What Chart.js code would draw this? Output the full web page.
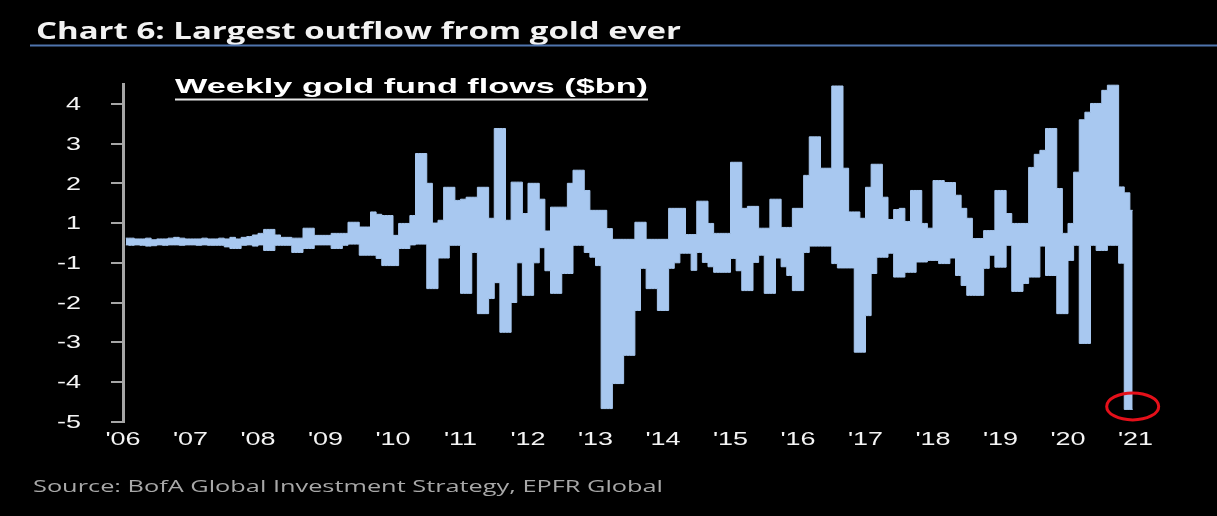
<!DOCTYPE html>
<html>
<head>
<meta charset="utf-8">
<title>Weekly gold fund flows</title>
<script src="https://cdn.jsdelivr.net/npm/chart.js@4/dist/chart.umd.min.js"></script>
<style>
  html, body { margin: 0; padding: 0; background: #000; }
  canvas { display: block; }
</style>
</head>
<body>
<canvas id="grafico" width="1217" height="516"></canvas>
<script>
const titulo = 'Chart 6: Largest outflow from gold ever';
const subtitulo = 'Weekly gold fund flows ($bn)';
const fonte = 'Source: BofA Global Investment Strategy, EPFR Global';

const firstYear = 2006;
const yearLabels = ["'06", "'07", "'08", "'09", "'10", "'11", "'12", "'13", "'14", "'15", "'16", "'17", "'18", "'19", "'20", "'21"];

// axis ticks sit on half units, printed rounded away from zero ("0" number format)
const yTicks = [3.5, 2.5, 1.5, 0.5, -0.5, -1.5, -2.5, -3.5, -4.5];

// largest weekly inflow in each month, $bn (one row per year, Jan..Dec)
const inflows = [
  0.12, 0.12, 0.10, 0.10, 0.12, 0.08, 0.10, 0.10, 0.12, 0.14, 0.12, 0.10,
  0.10, 0.10, 0.12, 0.10, 0.10, 0.12, 0.10, 0.14, 0.10, 0.14, 0.16, 0.20,
  0.24, 0.34, 0.34, 0.20, 0.14, 0.14, 0.12, 0.12, 0.37, 0.37, 0.19, 0.19,
  0.19, 0.24, 0.24, 0.24, 0.52, 0.52, 0.40, 0.40, 0.78, 0.72, 0.69, 0.69,
  0.19, 0.49, 0.49, 0.69, 2.25, 2.25, 1.50, 0.50, 0.57, 1.40, 1.40, 1.07,
  1.10, 1.15, 1.15, 1.40, 1.40, 0.62, 2.88, 2.88, 0.57, 1.53, 1.53, 0.74,
  1.50, 1.50, 1.10, 0.30, 0.90, 0.90, 0.90, 1.50, 1.83, 1.83, 1.32, 0.82,
  0.82, 0.82, 0.36, 0.09, 0.09, 0.09, 0.09, 0.52, 0.52, 0.09, 0.09, 0.09,
  0.09, 0.87, 0.87, 0.87, 0.21, 0.21, 1.05, 1.05, 0.49, 0.24, 0.24, 0.24,
  2.03, 2.03, 0.87, 0.92, 0.92, 0.37, 0.37, 1.10, 1.10, 0.39, 0.39, 0.87,
  0.87, 1.70, 2.67, 2.67, 1.88, 1.88, 3.95, 3.95, 1.88, 0.78, 0.78, 0.62,
  1.40, 1.98, 1.98, 1.15, 0.59, 0.84, 0.87, 0.54, 1.32, 1.32, 0.49, 0.37,
  1.57, 1.57, 1.52, 1.52, 1.20, 0.87, 0.62, 0.11, 0.11, 0.31, 0.31, 1.32,
  1.32, 0.74, 0.49, 0.49, 0.49, 1.90, 2.23, 2.33, 2.88, 2.88, 1.37, 0.24,
  0.49, 1.78, 3.10, 3.29, 3.51, 3.51, 3.84, 3.97, 3.97, 1.41, 1.26, 0.82
];

// largest weekly outflow in each month, $bn
const outflows = [
  -0.05, -0.06, -0.05, -0.06, -0.08, -0.07, -0.05, -0.06, -0.05, -0.05, -0.06, -0.05,
  -0.05, -0.06, -0.05, -0.06, -0.06, -0.06, -0.10, -0.14, -0.14, -0.06, -0.05, -0.08,
  -0.05, -0.19, -0.19, -0.06, -0.06, -0.06, -0.24, -0.24, -0.14, -0.14, -0.05, -0.05,
  -0.05, -0.14, -0.14, -0.06, -0.03, -0.03, -0.31, -0.31, -0.31, -0.39, -0.57, -0.57,
  -0.57, -0.14, -0.14, -0.05, -0.03, -0.03, -1.15, -1.15, -0.38, -0.38, -0.06, -0.06,
  -1.27, -1.27, -0.24, -1.78, -1.78, -1.40, -1.00, -2.25, -2.25, -1.50, -0.50, -1.32,
  -1.32, -0.50, -0.12, -0.70, -1.27, -1.27, -0.77, -0.77, -0.06, -0.06, -0.24, -0.36,
  -0.57, -4.17, -4.17, -3.54, -3.54, -2.83, -2.83, -1.70, -0.64, -1.15, -1.15, -1.70,
  -1.70, -0.64, -0.50, -0.26, -0.26, -0.69, -0.24, -0.49, -0.60, -0.74, -0.74, -0.74,
  -0.39, -0.70, -1.20, -1.20, -0.49, -0.31, -1.27, -1.27, -0.38, -0.60, -0.82, -1.20,
  -1.20, -0.24, -0.08, -0.08, -0.08, -0.08, -0.52, -0.63, -0.63, -0.63, -2.75, -2.75,
  -1.83, -0.77, -0.36, -0.36, -0.26, -0.86, -0.86, -0.74, -0.74, -0.48, -0.48, -0.44,
  -0.44, -0.52, -0.52, -0.38, -0.82, -1.07, -1.32, -1.32, -1.32, -0.64, -0.31, -0.61,
  -0.61, -0.06, -1.22, -1.22, -1.02, -0.86, -0.86, -0.08, -0.82, -0.82, -1.78, -1.78,
  -0.44, -0.06, -2.53, -2.53, -0.06, -0.19, -0.19, -0.06, -0.06, -0.51, -4.19, -4.19
];

const corBarra = '#a8c8f0';

// month index -> position on the year axis (middle of the month)
const mesParaAno = i => firstYear + (i + 0.5) / 12;
const pontos = serie => serie.map((v, i) => ({ x: mesParaAno(i), y: v }));

function rotuloY(v) {
  return String(Math.sign(v) * Math.round(Math.abs(v)));
}

function textoEsticado(ctx, texto, x, y, font, cor, sx, align) {
  ctx.save();
  ctx.font = font;
  ctx.fillStyle = cor;
  ctx.textAlign = align || 'left';
  ctx.textBaseline = 'middle';
  ctx.translate(x, y);
  ctx.scale(sx, 1);
  ctx.fillText(texto, 0, 0);
  ctx.restore();
}

function textoAjustado(ctx, texto, x, y, font, cor, largura) {
  ctx.font = font;
  const sx = largura / ctx.measureText(texto).width;
  textoEsticado(ctx, texto, x, y, font, cor, sx, 'left');
}

function linha(ctx, x1, y1, x2, y2, cor, w) {
  ctx.save();
  ctx.strokeStyle = cor;
  ctx.lineWidth = w;
  ctx.beginPath();
  ctx.moveTo(x1, y1);
  ctx.lineTo(x2, y2);
  ctx.stroke();
  ctx.restore();
}

const textos = {
  id: 'textos',
  afterDraw(chart) {
    const ctx = chart.ctx;
    const sx = chart.scales.x, sy = chart.scales.y;

    textoAjustado(ctx, titulo, 36, 32, 'bold 23px "Open Sans"', '#f2f2f2', 645);
    linha(ctx, 30, 45.5, 1217, 45.5, '#4f74ad', 2);

    textoAjustado(ctx, subtitulo, 175, 87, 'bold 21px "Liberation Sans"', '#ffffff', 473);
    linha(ctx, 175, 99.5, 648, 99.5, '#e8e8e8', 2);

    yTicks.forEach(v => {
      textoEsticado(ctx, rotuloY(v), 81, sy.getPixelForValue(v) + 1, '19px "Liberation Sans"', '#f4f4f4', 1.42, 'right');
    });
    yearLabels.forEach((lbl, i) => {
      textoEsticado(ctx, lbl, sx.getPixelForValue(firstYear + i), 440, '19px "Liberation Sans"', '#f4f4f4', 1.42, 'center');
    });

    textoAjustado(ctx, fonte, 33, 487, '17px "Open Sans"', '#a8a8a8', 630);
  }
};

// red ring around the record outflow
const destaque = {
  id: 'destaque',
  afterDatasetsDraw(chart) {
    const ctx = chart.ctx;
    let idx = 0;
    outflows.forEach((v, i) => { if (v <= outflows[idx]) idx = i; });
    const cx = chart.scales.x.getPixelForValue(mesParaAno(idx));
    const cy = chart.scales.y.getPixelForValue(outflows[idx]) - 3;
    ctx.save();
    ctx.strokeStyle = '#e5101a';
    ctx.lineWidth = 3;
    ctx.beginPath();
    ctx.ellipse(cx, cy, 26, 13.5, 0, 0, Math.PI * 2);
    ctx.stroke();
    ctx.restore();
  }
};

// each series is one stepped area filled to zero, so the months join without seams
const serie = (label, data) => ({
  label, data,
  stepped: 'middle',
  fill: 'origin',
  backgroundColor: corBarra,
  borderColor: corBarra,
  borderWidth: 1,
  pointRadius: 0
});

new Chart(document.getElementById('grafico'), {
  type: 'line',
  data: {
    datasets: [serie('Inflows', pontos(inflows)), serie('Outflows', pontos(outflows))]
  },
  options: {
    responsive: false,
    animation: false,
    layout: { padding: { left: 111, right: 81.5, top: 84, bottom: 94.3 } },
    plugins: { legend: { display: false }, tooltip: { enabled: false } },
    scales: {
      x: { type: 'linear', min: firstYear, max: firstYear + 15, offset: false, display: false },
      y: {
        min: -4.5, max: 4,
        afterBuildTicks: axis => { axis.ticks = yTicks.map(v => ({ value: v })); },
        ticks: { display: false, callback: rotuloY },
        border: { display: true, color: '#a6a6a6', width: 3 },
        grid: { drawOnChartArea: false, drawTicks: true, tickLength: 12, color: '#a6a6a6', lineWidth: 2 }
      }
    }
  },
  plugins: [destaque, textos]
});
</script>
</body>
</html>
